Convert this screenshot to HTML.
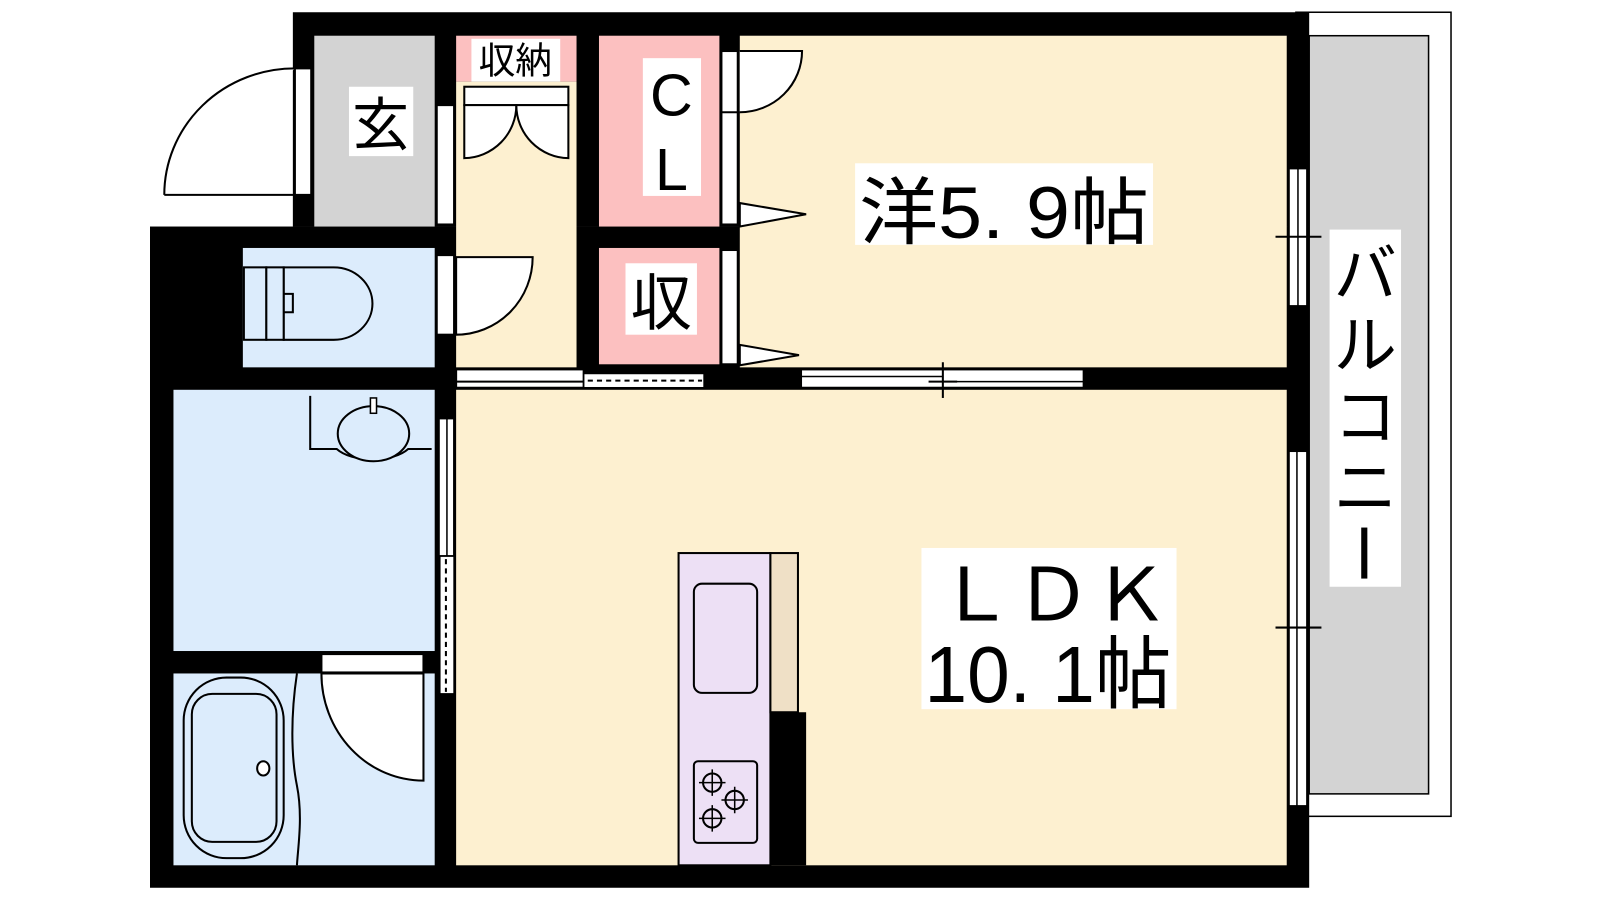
<!DOCTYPE html>
<html><head><meta charset="utf-8"><style>
html,body{margin:0;padding:0;background:#fff;}
svg{display:block;}
text{font-family:"Liberation Sans","Noto Sans CJK JP",sans-serif;fill:#000;}
</style></head><body>
<svg width="1600" height="900" viewBox="0 0 1568 882" preserveAspectRatio="none" xmlns="http://www.w3.org/2000/svg">
<rect width="1568" height="882" fill="#fff"/>
<!-- balcony -->
<rect x="1270" y="12" width="152" height="788" fill="#fff" stroke="#000" stroke-width="1.5"/>
<rect x="1283" y="35" width="117" height="743" fill="#d3d3d3" stroke="#000" stroke-width="1.5"/>
<!-- black walls base -->
<rect x="287" y="12" width="996" height="210" fill="#000"/>
<rect x="147" y="222" width="1136" height="648" fill="#000"/>
<!-- rooms -->
<rect x="308" y="35" width="118" height="187" fill="#d3d3d3"/>
<rect x="447" y="35" width="118" height="45" fill="#fcc0c0"/>
<rect x="447" y="80" width="118" height="280" fill="#fdf0d0"/>
<rect x="587" y="35" width="118" height="187" fill="#fcc0c0"/>
<rect x="587" y="243" width="118" height="114" fill="#fcc0c0"/>
<rect x="725" y="35" width="536" height="325" fill="#fdf0d0"/>
<rect x="238" y="243" width="188" height="117" fill="#dcecfc"/>
<rect x="170" y="382" width="256" height="256" fill="#dcecfc"/>
<rect x="170" y="660" width="256" height="188" fill="#dcecfc"/>
<rect x="447" y="382" width="814" height="466" fill="#fdf0d0"/>
<!-- entrance door -->
<rect x="289" y="67" width="16" height="124" fill="#fff" stroke="#000" stroke-width="2"/>
<path d="M161,191 L289,191 M161,191 A128,124 0 0 1 289,67" fill="#fff" stroke="#000" stroke-width="2"/>
<!-- frames hallway left -->
<rect x="428" y="103" width="17" height="117" fill="#fff" stroke="#000" stroke-width="2"/>
<rect x="428" y="250" width="17" height="78" fill="#fff" stroke="#000" stroke-width="2"/>
<path d="M447,252 L522,252 A75,76 0 0 1 447,328 Z" fill="#fff" stroke="#000" stroke-width="2"/>
<!-- closet doors -->
<rect x="455" y="85" width="102" height="18" fill="#fff" stroke="#000" stroke-width="2"/>
<path d="M455,103 L455,155 A52,52 0 0 0 506,103 Z" fill="#fff" stroke="#000" stroke-width="2"/>
<path d="M557,103 L557,155 A52,52 0 0 1 506,103 Z" fill="#fff" stroke="#000" stroke-width="2"/>
<!-- CL frames -->
<rect x="707" y="50" width="16" height="170" fill="#fff" stroke="#000" stroke-width="2"/>
<rect x="707" y="245" width="16" height="112" fill="#fff" stroke="#000" stroke-width="2"/>
<path d="M725,50 L786,50 A61,60 0 0 1 725,110" fill="#fff" stroke="#000" stroke-width="2"/>
<line x1="707" y1="110" x2="725" y2="110" stroke="#000" stroke-width="2"/>
<path d="M725,199 L790,210 L725,222 Z" fill="#fff" stroke="#000" stroke-width="2"/>
<path d="M725,338 L783,348 L725,358 Z" fill="#fff" stroke="#000" stroke-width="2"/>
<!-- horizontal wall openings -->
<rect x="447" y="362" width="125" height="18" fill="#fff" stroke="#000" stroke-width="2"/>
<line x1="447" y1="374" x2="572" y2="374" stroke="#000" stroke-width="2"/>
<rect x="572" y="366" width="118" height="14" fill="#fff" stroke="#000" stroke-width="1.5"/>
<line x1="576" y1="373" x2="688" y2="373" stroke="#000" stroke-width="2" stroke-dasharray="5,4"/>
<rect x="785" y="362" width="277" height="18" fill="#fff" stroke="#000" stroke-width="2"/>
<line x1="785" y1="369" x2="924" y2="369" stroke="#000" stroke-width="1.5"/>
<line x1="924" y1="374" x2="1062" y2="374" stroke="#000" stroke-width="1.5"/>
<line x1="924" y1="355" x2="924" y2="390" stroke="#000" stroke-width="2"/>
<line x1="910" y1="374" x2="938" y2="374" stroke="#000" stroke-width="2"/>
<!-- right windows -->
<rect x="1263" y="165" width="18" height="135" fill="#fff" stroke="#000" stroke-width="2"/>
<line x1="1272" y1="165" x2="1272" y2="300" stroke="#000" stroke-width="1.5"/>
<line x1="1250" y1="232" x2="1295" y2="232" stroke="#000" stroke-width="2"/>
<rect x="1263" y="442" width="18" height="348" fill="#fff" stroke="#000" stroke-width="2"/>
<line x1="1271" y1="442" x2="1271" y2="790" stroke="#000" stroke-width="1.5"/>
<line x1="1250" y1="615" x2="1295" y2="615" stroke="#000" stroke-width="2"/>
<!-- wash window -->
<rect x="430" y="410" width="15" height="135" fill="#fff" stroke="#000" stroke-width="2"/>
<line x1="438" y1="410" x2="438" y2="545" stroke="#000" stroke-width="1.5"/>
<rect x="431" y="545" width="14" height="135" fill="#fff" stroke="#000" stroke-width="1.5"/>
<line x1="437" y1="548" x2="437" y2="678" stroke="#000" stroke-width="2" stroke-dasharray="5,4"/>
<!-- toilet -->
<path d="M278,262 L327,262 A38,35.5 0 0 1 327,333 L278,333 Z" fill="#dcecfc" stroke="#000" stroke-width="2"/>
<rect x="239" y="262" width="22" height="71" fill="#dcecfc" stroke="#000" stroke-width="2"/>
<rect x="261" y="262" width="17" height="71" fill="#dcecfc" stroke="#000" stroke-width="2"/>
<path d="M278,288 L287,288 L287,306 L278,306" fill="none" stroke="#000" stroke-width="2"/>
<!-- sink -->
<path d="M304,388 L304,440 L330,440 A40,20 0 0 0 400,440 L423,440" fill="#dcecfc" stroke="#000" stroke-width="2"/>
<ellipse cx="366" cy="425" rx="35" ry="27" fill="#dcecfc" stroke="#000" stroke-width="2"/>
<rect x="363" y="390" width="6" height="15" fill="#fff" stroke="#000" stroke-width="1.5"/>
<!-- bath door -->
<rect x="315" y="641" width="100" height="18" fill="#fff" stroke="#000" stroke-width="2"/>
<rect x="415" y="641" width="8" height="18" fill="#000"/>
<path d="M315,660 A100,105 0 0 0 415,765 L415,660 Z" fill="#fff" stroke="#000" stroke-width="2"/>
<!-- bathtub -->
<path d="M291,660 C285,700 285,740 291,770 C297,800 292,830 291,848" fill="none" stroke="#000" stroke-width="2"/>
<rect x="180" y="664" width="98" height="177" rx="42" fill="#dcecfc" stroke="#000" stroke-width="2"/>
<rect x="188" y="680" width="83" height="145" rx="20" fill="#dcecfc" stroke="#000" stroke-width="2"/>
<ellipse cx="258" cy="753" rx="6" ry="7" fill="#fff" stroke="#000" stroke-width="2"/>
<!-- kitchen -->
<rect x="665" y="542" width="90" height="306" fill="#ede0f5" stroke="#000" stroke-width="2"/>
<rect x="755" y="542" width="27" height="156" fill="#efe0c6" stroke="#000" stroke-width="2"/>
<rect x="755" y="698" width="35" height="150" fill="#000"/>
<rect x="680" y="572" width="62" height="107" rx="8" fill="#ede0f5" stroke="#000" stroke-width="2"/>
<rect x="680" y="746" width="62" height="80" rx="4" fill="#ede0f5" stroke="#000" stroke-width="2"/>
<g fill="none" stroke="#000" stroke-width="2">
<circle cx="698" cy="767" r="9"/><circle cx="720" cy="784" r="9"/><circle cx="698" cy="802" r="9"/>
</g>
<g stroke="#000" stroke-width="1.5">
<path d="M698,754v26M685,767h26M720,771v26M707,784h26M698,789v26M685,802h26"/>
</g>
<!-- labels -->
<rect x="342" y="85" width="63" height="68" fill="#fff"/>
<text x="373" y="142" font-size="56" text-anchor="middle">玄</text>
<rect x="462" y="38" width="87" height="42" fill="#fff"/>
<text x="505" y="72" font-size="36" text-anchor="middle">収納</text>
<rect x="630" y="57" width="57" height="135" fill="#fff"/>
<text x="658" y="113" font-size="58" text-anchor="middle">C</text>
<text x="658" y="186" font-size="58" text-anchor="middle">L</text>
<rect x="613" y="258" width="70" height="70" fill="#fff"/>
<text x="648" y="318" font-size="60" text-anchor="middle">収</text>
<rect x="838" y="160" width="292" height="80" fill="#fff"/>
<text x="842" y="233" font-size="72" textLength="284" lengthAdjust="spacingAndGlyphs">洋5. 9帖</text>
<rect x="903" y="537" width="250" height="158" fill="#fff"/>
<text x="918" y="608" font-size="72" textLength="228" lengthAdjust="spacingAndGlyphs">ＬＤＫ</text>
<text x="906" y="688" font-size="78" textLength="242" lengthAdjust="spacingAndGlyphs">10. 1帖</text>
<rect x="1303" y="225" width="70" height="350" fill="#fff"/>
<text x="1338" y="290" font-size="62" text-anchor="middle">バ</text>
<text x="1338" y="360" font-size="62" text-anchor="middle">ル</text>
<text x="1338" y="430" font-size="62" text-anchor="middle">コ</text>
<text x="1338" y="500" font-size="62" text-anchor="middle">ニ</text>
<rect x="1334" y="517" width="6" height="50" fill="#000"/>
</svg>
</body></html>
